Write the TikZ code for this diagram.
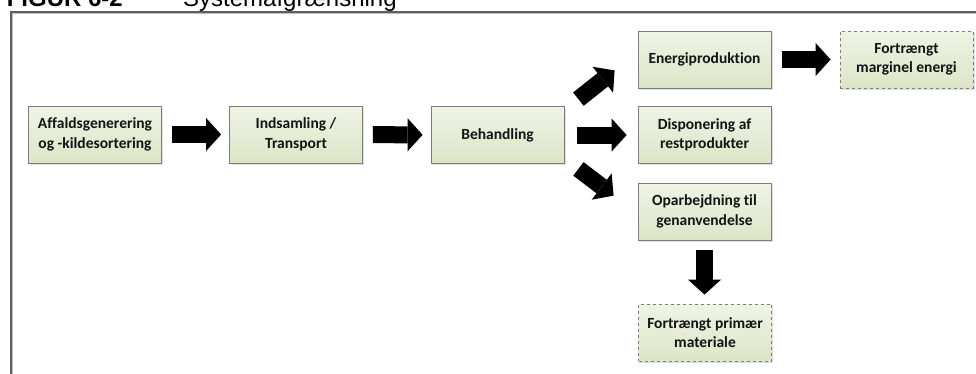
\documentclass[tikz,border=0pt]{standalone}
\usepackage{fontspec}
\usepackage{xcolor}
\usepackage{tikz}
\usetikzlibrary{calc}
\usetikzlibrary{arrows.meta}
\usetikzlibrary{shadows}
\newfontfamily\titlefont{Liberation Sans}
\newfontfamily\boxfont[Ligatures=NoCommon]{Carlito}
\definecolor{boxtop}{RGB}{239,243,229}
\definecolor{boxbottom}{RGB}{220,229,199}
\definecolor{boxline}{RGB}{125,125,125}
\definecolor{framecol}{RGB}{95,95,95}
\tikzset{
	stage/.style={draw=boxline,line width=0.8pt,top color=boxtop,bottom color=boxbottom,
		minimum width=133pt,minimum height=57pt,align=center,text=black!92,
		font=\boxfont\bfseries\fontsize{15.5}{19.5}\selectfont,
		drop shadow={shadow xshift=1.5pt,shadow yshift=-1.5pt,opacity=0.25}},
	displaced/.style={stage,dashed},
	blockarrow/.style={line width=17pt,-{Triangle[length=15pt,width=33pt,line width=0pt]},
		shorten <=10pt,shorten >=8pt}
}

\begin{document}
\begin{tikzpicture}[x=1pt,y=-1pt]
	\useasboundingbox (0,0) rectangle (976,373);
	\clip (0,0) rectangle (976,373);
	% title and frame
	\node[anchor=base east,inner sep=0pt,font=\titlefont\bfseries\fontsize{24}{24}\selectfont] (figno) at (123,6.5) {FIGUR 6-2};
	\node[anchor=base west,inner sep=0pt,font=\titlefont\fontsize{24}{24}\selectfont] (figtitle) at (183,6.5) {Systemafgrænsning};
	\draw[black!25,line width=1.5pt] (12.25,390) |- (990,13.25);
	\draw[framecol,line width=1.5pt] (10.75,390) |- (990,11.75);
	% chain
	\node[stage] (affald) at (95,134.5) {Affaldsgenerering\\og -kildesortering};
	\node[stage] (indsamling) at (296,134.5) {Indsamling /\\Transport};
	\node[stage] (behandling) at (497.5,135) {Behandling};
	\node[stage] (energi) at (704.5,59.5) {Energiproduktion};
	\node[stage] (disponering) at (704.5,135) {Disponering af\\restprodukter};
	\node[stage] (oparbejdning) at (704.5,211.5) {Oparbejdning til\\genanvendelse};
	\node[displaced] (margenergi) at (906.5,59.5) {Fortrængt\\marginel energi};
	\node[displaced] (primmateriale) at (705,332.5) {Fortrængt primær\\materiale};
	% arrows
	\draw[blockarrow] (affald) -- (indsamling);
	\draw[blockarrow] (indsamling) -- (behandling);
	\draw[blockarrow,shorten <=13pt,shorten >=11pt] (behandling) -- (disponering);
	\draw[blockarrow,shorten <=11pt,shorten >=9pt] (energi) -- (margenergi);
	\draw[blockarrow,shorten >=9pt] (oparbejdning) -- (primmateriale.north -| oparbejdning);
	\draw[blockarrow,shorten <=0pt,shorten >=0pt] ($(behandling.north east)+(14,-7)$) -- ($(energi.south west)+(-23,-18)$);
	\draw[blockarrow,shorten <=0pt,shorten >=0pt] ($(behandling.south east)+(14,5)$) -- ($(oparbejdning.north west)+(-24,13)$);
\end{tikzpicture}
\end{document}
